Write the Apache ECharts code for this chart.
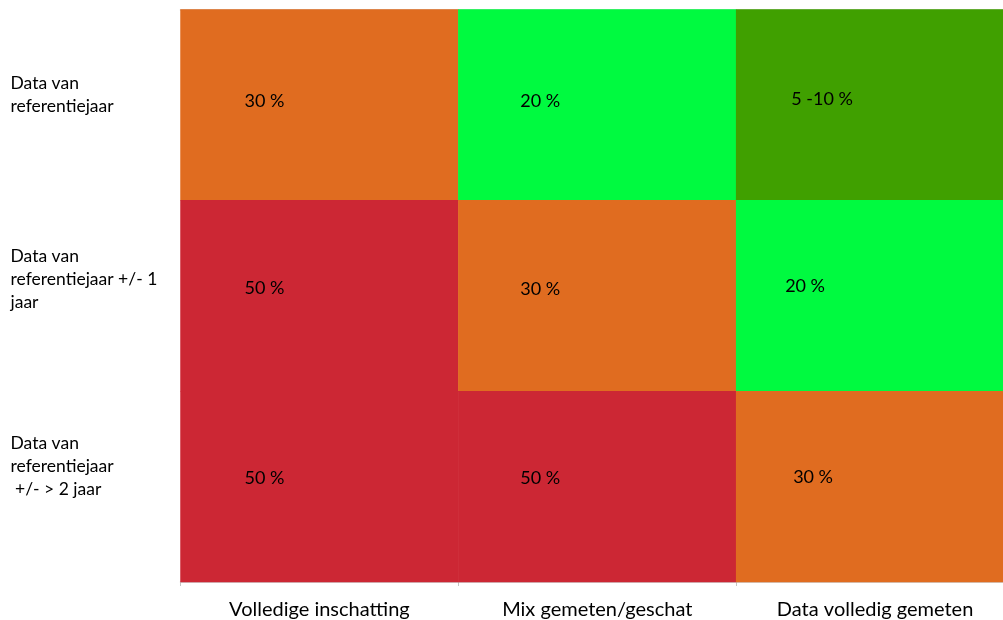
<!DOCTYPE html>
<html>
<head>
<meta charset="utf-8">
<script src="https://cdn.jsdelivr.net/npm/echarts@6/dist/echarts.min.js"></script>
<style>
html,body{margin:0;padding:0;background:#fff;overflow:hidden;width:1003px;height:620px;}
#chart{width:1014px;height:620px;}
</style>
</head>
<body>
<div id="chart"></div>
<script>
// ---- data ----
const xCategories = ['Volledige inschatting', 'Mix gemeten/geschat', 'Data volledig gemeten'];
const yCategories = [
  'Data van\nreferentiejaar',
  'Data van\nreferentiejaar +/- 1\njaar',
  'Data van\nreferentiejaar\n +/- > 2 jaar'
];
// rows top to bottom, columns left to right
const cellLabels = [
  ['30 %', '20 %', '5 -10 %'],
  ['50 %', '30 %', '20 %'],
  ['50 %', '50 %', '30 %']
];
// quality level: 0 = worst (red) ... 3 = best (dark green)
const cellLevels = [
  [1, 2, 3],
  [0, 1, 2],
  [0, 0, 1]
];

// ---- styles ----
const levelColors = ['#CC2734', '#E06C20', '#00FA40', '#40A000'];
const labelOffsets = [
  [[-55, -4], [-57, -4], [-53, -6]],
  [[-55, -8], [-57, -7], [-70, -10]],
  [[-55, -8], [-57, -8], [-62, -9]]
];
const yLabelLift = [20, 32, 40];

const data = [];
for (let r = 0; r < yCategories.length; r++) {
  for (let c = 0; c < xCategories.length; c++) {
    data.push({
      value: [c, r, cellLevels[r][c]],
      labelText: cellLabels[r][c],
      label: { offset: labelOffsets[r][c] }
    });
  }
}

const yRich = {};
yLabelLift.forEach((h, i) => {
  yRich['s' + i] = { fontSize: 1, lineHeight: h };
});

const chart = echarts.init(document.getElementById('chart'), null, { renderer: 'canvas' });
chart.setOption({
  animation: false,
  backgroundColor: '#ffffff',
  grid: { left: 180.5, right: 0, top: 9.5, bottom: 38, containLabel: false },
  xAxis: [{
    type: 'category',
    data: xCategories,
    position: 'bottom',
    axisLine: { show: true, lineStyle: { color: '#c4c4c4', width: 1.5 } },
    axisTick: { show: true, length: 4, lineStyle: { color: '#c4c4c4' } },
    splitLine: { show: false },
    axisLabel: {
      margin: 18,
      color: '#000',
      fontFamily: 'Lato',
      fontSize: 20,
      interval: 0
    }
  }, {
    type: 'category',
    data: xCategories,
    position: 'top',
    axisLine: { show: true, lineStyle: { color: '#c4c4c4', width: 1.5 } },
    axisTick: { show: false },
    axisLabel: { show: false },
    splitLine: { show: false }
  }],
  yAxis: {
    type: 'category',
    data: yCategories,
    inverse: true,
    axisLine: { show: false },
    axisTick: { show: false },
    splitLine: { show: false },
    axisLabel: {
      align: 'left',
      margin: 170,
      interval: 0,
      color: '#000',
      fontFamily: 'Lato',
      fontSize: 17.5,
      lineHeight: 23,
      formatter: (v, i) => v + '\n{s' + i + '| }',
      rich: yRich
    }
  },
  visualMap: {
    show: false,
    type: 'piecewise',
    dimension: 2,
    pieces: levelColors.map((col, i) => ({ value: i, color: col }))
  },
  series: [{
    type: 'heatmap',
    data: data,
    itemStyle: { borderWidth: 0 },
    label: {
      show: true,
      color: '#000',
      fontFamily: 'Lato',
      fontSize: 18,
      formatter: p => p.data.labelText
    },
    emphasis: { disabled: true }
  }]
});
</script>
</body>
</html>
